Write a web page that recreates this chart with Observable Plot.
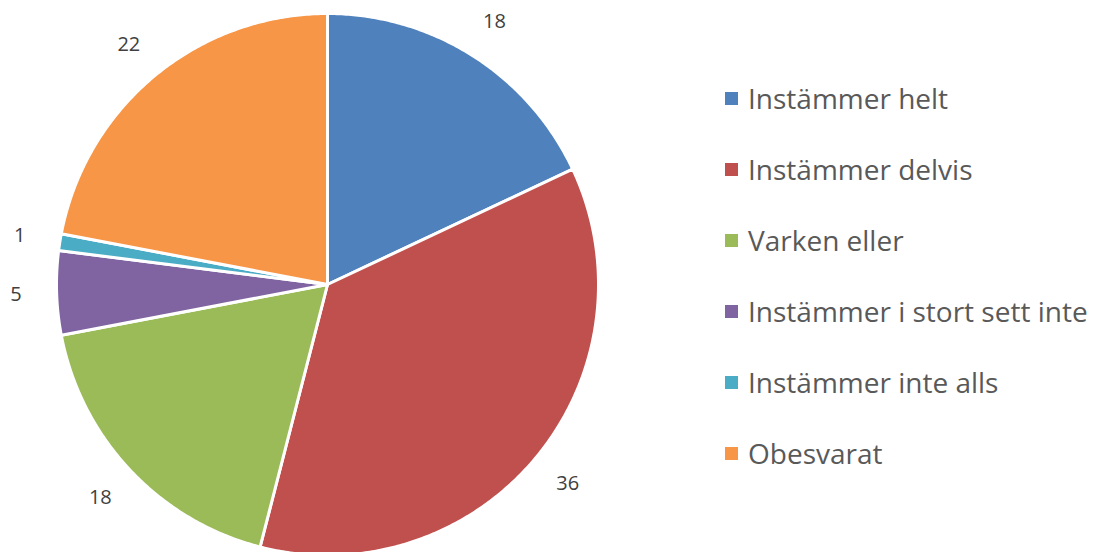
<!DOCTYPE html>
<html>
<head>
<meta charset="utf-8">
<script src="https://cdn.jsdelivr.net/npm/d3@7"></script>
<script src="https://cdn.jsdelivr.net/npm/@observablehq/plot@0.6"></script>
<style>
  html, body { margin: 0; padding: 0; background: #fff; }
  #wrap { position: relative; width: 1101px; height: 552px; overflow: hidden; }
  #legend { position: absolute; left: 725px; top: 0; font-family: "Open Sans", sans-serif; font-size: 28px; color: #595959; }
  .item { position: absolute; white-space: nowrap; display: flex; align-items: center; height: 30px; }
  .sw { width: 13px; height: 13px; margin-right: 10px; display: inline-block; }
</style>
</head>
<body>
<div id="wrap"><div id="chart"></div><div id="legend"></div></div>
<script>
const categories = ["Instämmer helt", "Instämmer delvis", "Varken eller", "Instämmer i stort sett inte", "Instämmer inte alls", "Obesvarat"];
const values = [18, 36, 18, 5, 1, 22];
const colors = ["#4F81BD", "#C0504D", "#9BBB59", "#8064A2", "#4BACC6", "#F79646"];

const data = categories.map((c, i) => ({cat: c, value: values[i]}));
const arcs = d3.pie().sort(null).value(d => d.value)(data);

// polygon points for each slice (angle measured clockwise from top)
const pts = [];
for (const a of arcs) {
  const c = a.data.cat;
  pts.push({cat: c, x: 0, y: 0});
  const n = Math.max(4, Math.ceil((a.endAngle - a.startAngle) / (Math.PI / 360)));
  for (let k = 0; k <= n; k++) {
    const t = a.startAngle + (a.endAngle - a.startAngle) * k / n;
    pts.push({cat: c, x: Math.sin(t), y: Math.cos(t)});
  }
  pts.push({cat: c, x: 0, y: 0});
}
const labels = arcs.map(a => {
  const m = (a.startAngle + a.endAngle) / 2;
  return {label: String(a.data.value), x: 1.15 * Math.sin(m), y: 1.15 * Math.cos(m)};
});

const cx = 327, cy = 284, r = 271;
const chart = Plot.plot({
  width: 1101,
  height: 552,
  margin: 0,
  x: {domain: [-1, 1], range: [cx - r, cx + r], axis: null},
  y: {domain: [-1, 1], range: [cy + r, cy - r], axis: null},
  color: {domain: categories, range: colors},
  style: {fontFamily: "'Open Sans', sans-serif", background: "white"},
  marks: [
    Plot.line(pts, {x: "x", y: "y", z: "cat", fill: "cat", stroke: "white", strokeWidth: 3, strokeLinejoin: "round", curve: "linear"}),
    Plot.text(labels, {x: "x", y: "y", text: "label", fontSize: 20, fill: "#404040"})
  ]
});
document.getElementById("chart").appendChild(chart);

const legend = document.getElementById("legend");
categories.forEach((c, i) => {
  const d = document.createElement("div");
  d.className = "item";
  d.style.top = (83 + i * 71) + "px";
  d.innerHTML = `<span class="sw" style="background:${colors[i]}"></span><span>${c}</span>`;
  legend.appendChild(d);
});
</script>
</body>
</html>
